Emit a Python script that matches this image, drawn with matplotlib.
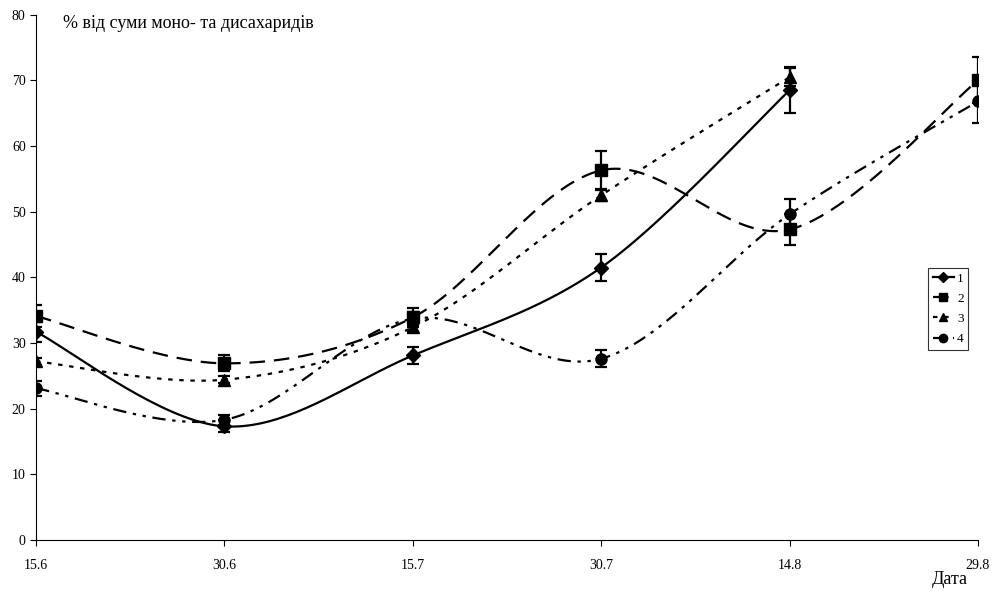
import numpy as np
import matplotlib.pyplot as plt

plt.rcParams['font.family'] = ['Liberation Serif', 'DejaVu Serif']

dates = ["15.6", "30.6", "15.7", "30.7", "14.8", "29.8"]

s1 = [31.7, 17.3, 28.1, 41.5, 68.5]
s1_err = [1.5, 0.9, 1.3, 2.0, 3.5]
s2 = [34.1, 26.9, 33.9, 56.3, 47.3, 70.0]
s2_err = [1.7, 1.2, 1.5, 2.9, 2.3, 3.5]
s3 = [27.2, 24.4, 32.4, 52.5, 70.5]
s3_err = [0.5, 0.5, 0.8, 0.8, 1.4]
s4 = [23.1, 18.3, 33.7, 27.6, 49.6, 66.8]
s4_err = [1.1, 0.8, 1.0, 1.3, 2.4, 3.3]


def smooth(y, n=40):
    # Catmull-Rom style smoothing like spreadsheet "smoothed line"
    x = np.arange(len(y), dtype=float)
    y = np.asarray(y, dtype=float)
    px = np.concatenate([[x[0]], x, [x[-1]]])
    py = np.concatenate([[y[0]], y, [y[-1]]])
    xs, ys = [], []
    for i in range(1, len(px) - 2):
        p0, p1, p2, p3 = (np.array([px[j], py[j]]) for j in range(i - 1, i + 3))
        c1 = p1 + (p2 - p0) / 6
        c2 = p2 - (p3 - p1) / 6
        t = np.linspace(0, 1, n)[:, None]
        b = (1 - t) ** 3 * p1 + 3 * (1 - t) ** 2 * t * c1 + 3 * (1 - t) * t ** 2 * c2 + t ** 3 * p2
        xs.append(b[:, 0])
        ys.append(b[:, 1])
    return np.concatenate(xs), np.concatenate(ys)


series = [
    ("1", s1, s1_err, "D", "-", 7),
    ("2", s2, s2_err, "s", (0, (7, 4)), 8),
    ("3", s3, s3_err, "^", (0, (2, 3)), 8),
    ("4", s4, s4_err, "o", (0, (6, 3, 1.5, 3, 1.5, 3)), 8),
]

fig = plt.figure(figsize=(10.02, 5.92), dpi=100)
ax = fig.add_axes([0.036, 0.088, 0.94, 0.887])

for name, y, err, mk, ls, ms in series:
    xs, ys = smooth(y)
    ax.plot(xs, ys, color="black", linestyle=ls, linewidth=1.6)
    x = np.arange(len(y))
    ax.errorbar(x, y, yerr=err, fmt="none", ecolor="black", elinewidth=1.6, capsize=4, capthick=1.6)
    ax.plot(x, y, linestyle="none", marker=mk, color="black", markersize=ms)
    ax.plot([], [], color="black", linestyle=ls, marker=mk, markersize=ms - 2, linewidth=1.6, label=name)

ax.set_xlim(0, 5)
ax.set_ylim(0, 80)
ax.set_xticks(range(6))
ax.set_xticklabels(dates)
ax.set_yticks(range(0, 81, 10))
ax.spines["top"].set_visible(False)
ax.spines["right"].set_visible(False)
ax.tick_params(labelsize=10, length=4, direction="out")
ax.tick_params(axis="x", pad=10)

ax.text(0.029, 1.0, "% від суми моно- та дисахаридів", transform=ax.transAxes,
        fontsize=13, va="top", ha="left")
fig.text(0.966, 0.006, "Дата", fontsize=13, ha="right", va="bottom")

leg = ax.legend(loc="upper left", bbox_to_anchor=(0.947, 0.518), fontsize=9.5,
                frameon=True, fancybox=False, edgecolor="black", handlelength=1.6,
                borderpad=0.35, labelspacing=0.6, handletextpad=0.25, borderaxespad=0)
leg.get_frame().set_linewidth(0.8)

fig.savefig("out.png", dpi=100)
